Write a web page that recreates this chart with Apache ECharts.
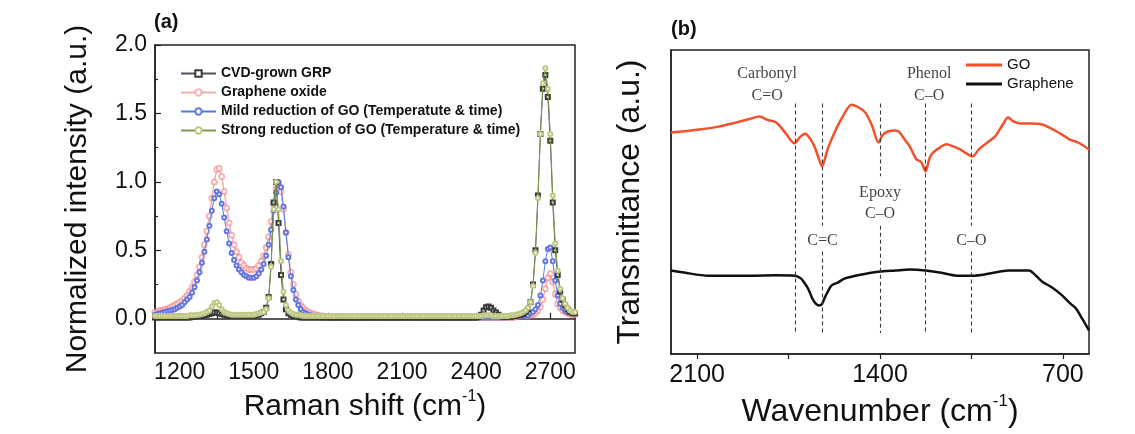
<!DOCTYPE html>
<html>
<head>
<meta charset="utf-8">
<script src="https://cdn.jsdelivr.net/npm/echarts@6/dist/echarts.min.js"></script>
<style>html,body{margin:0;padding:0;background:#fff;}#c{width:1135px;height:434px;}</style>
</head>
<body>
<div id="c"></div>
<script>
// ---------- Panel (a): Raman spectra ----------
const ramanShift = [
1100,1110,1120,1130,1140,1150,1160,1170,1180,1190,
1200,1210,1220,1230,1240,1250,1260,1270,1280,1290,
1300,1310,1320,1330,1340,1350,1360,1370,1380,1390,
1400,1410,1420,1430,1440,1450,1460,1470,1480,1490,
1500,1510,1520,1530,1540,1550,1560,1570,1580,1590,
1600,1610,1620,1630,1640,1650,1660,1670,1680,1690,
1700,1710,1720,1730,1740,1750,1760,1770,1780,1790,
1800,1810,1820,1830,1840,1850,1860,1870,1880,1890,
1900,1910,1920,1930,1940,1950,1960,1970,1980,1990,
2000,2010,2020,2030,2040,2050,2060,2070,2080,2090,
2100,2110,2120,2130,2140,2150,2160,2170,2180,2190,
2200,2210,2220,2230,2240,2250,2260,2270,2280,2290,
2300,2310,2320,2330,2340,2350,2360,2370,2380,2390,
2400,2410,2420,2430,2440,2450,2460,2470,2480,2490,
2500,2510,2520,2530,2540,2550,2560,2570,2580,2590,
2600,2610,2620,2630,2640,2650,2660,2670,2680,2690,
2700,2710,2720,2730,2740,2750,2760,2770,2780,2790,
2800];

const cvdGrown = [
0.01,0.01,0.01,0.01,0.01,0.01,0.01,0.01,0.01,0.01,
0.01,0.01,0.01,0.01,0.01,0.015,0.015,0.02,0.02,0.02,
0.025,0.03,0.035,0.04,0.045,0.045,0.04,0.035,0.03,0.025,
0.02,0.02,0.02,0.02,0.02,0.02,0.02,0.02,0.02,0.02,
0.02,0.025,0.03,0.04,0.05,0.08,0.16,0.40,0.85,1.00,
0.70,0.32,0.14,0.07,0.04,0.03,0.02,0.02,0.015,0.01,
0.01,0.01,0.01,0.01,0.01,0.01,0.01,0.01,0.01,0.01,
0.01,0.01,0.01,0.01,0.01,0.01,0.01,0.01,0.01,0.01,
0.01,0.01,0.01,0.01,0.01,0.01,0.01,0.01,0.01,0.01,
0.01,0.01,0.01,0.01,0.01,0.01,0.01,0.01,0.01,0.01,
0.01,0.01,0.01,0.01,0.01,0.01,0.01,0.01,0.01,0.01,
0.01,0.01,0.01,0.01,0.01,0.01,0.01,0.01,0.01,0.01,
0.01,0.01,0.01,0.01,0.01,0.01,0.01,0.01,0.01,0.01,
0.01,0.015,0.03,0.06,0.085,0.09,0.08,0.06,0.045,0.03,
0.02,0.015,0.015,0.015,0.015,0.02,0.02,0.025,0.03,0.035,
0.05,0.07,0.12,0.25,0.50,0.90,1.35,1.68,1.78,1.62,
1.30,0.85,0.50,0.32,0.20,0.14,0.10,0.07,0.05,0.04,
0.04];

const grapheneOxide = [
0.05,0.05,0.06,0.06,0.07,0.07,0.08,0.09,0.10,0.11,
0.12,0.13,0.15,0.17,0.20,0.23,0.27,0.32,0.38,0.45,
0.54,0.64,0.75,0.88,1.00,1.09,1.10,1.04,0.93,0.81,
0.70,0.61,0.54,0.49,0.45,0.41,0.39,0.37,0.36,0.36,
0.36,0.37,0.39,0.42,0.46,0.52,0.60,0.71,0.84,0.95,
0.99,0.93,0.80,0.63,0.47,0.34,0.25,0.18,0.13,0.10,
0.08,0.06,0.05,0.04,0.035,0.03,0.025,0.02,0.02,0.015,
0.01,0.01,0.01,0.01,0.01,0.01,0.01,0.01,0.01,0.01,
0.01,0.01,0.01,0.01,0.01,0.01,0.01,0.01,0.01,0.01,
0.01,0.01,0.01,0.01,0.01,0.01,0.01,0.01,0.01,0.01,
0.01,0.01,0.01,0.01,0.01,0.01,0.01,0.01,0.01,0.01,
0.01,0.01,0.01,0.01,0.01,0.01,0.01,0.01,0.01,0.01,
0.01,0.01,0.01,0.01,0.01,0.01,0.01,0.01,0.01,0.01,
0.01,0.01,0.01,0.01,0.01,0.01,0.01,0.01,0.01,0.01,
0.01,0.01,0.01,0.01,0.01,0.01,0.015,0.015,0.02,0.02,
0.02,0.02,0.025,0.03,0.04,0.06,0.09,0.14,0.22,0.30,
0.33,0.27,0.18,0.11,0.08,0.06,0.05,0.04,0.035,0.03,
0.03];

const mildReduction = [
0.03,0.035,0.04,0.045,0.05,0.055,0.06,0.065,0.07,0.08,
0.09,0.10,0.12,0.14,0.16,0.19,0.23,0.28,0.34,0.41,
0.49,0.58,0.68,0.79,0.88,0.93,0.91,0.84,0.74,0.64,
0.55,0.48,0.43,0.39,0.36,0.34,0.32,0.31,0.30,0.30,
0.30,0.31,0.33,0.36,0.40,0.46,0.54,0.65,0.79,0.92,
1.00,0.96,0.82,0.63,0.45,0.31,0.21,0.14,0.10,0.07,
0.05,0.04,0.03,0.025,0.02,0.02,0.015,0.015,0.01,0.01,
0.01,0.01,0.01,0.01,0.01,0.01,0.01,0.01,0.01,0.01,
0.01,0.01,0.01,0.01,0.01,0.01,0.01,0.01,0.01,0.01,
0.01,0.01,0.01,0.01,0.01,0.01,0.01,0.01,0.01,0.01,
0.01,0.01,0.01,0.01,0.01,0.01,0.01,0.01,0.01,0.01,
0.01,0.01,0.01,0.01,0.01,0.01,0.01,0.01,0.01,0.01,
0.01,0.01,0.01,0.01,0.01,0.01,0.01,0.01,0.01,0.01,
0.01,0.01,0.01,0.01,0.01,0.01,0.01,0.01,0.01,0.01,
0.01,0.01,0.01,0.015,0.015,0.015,0.02,0.02,0.02,0.02,
0.02,0.025,0.04,0.05,0.07,0.10,0.17,0.28,0.42,0.51,
0.52,0.42,0.28,0.17,0.11,0.08,0.06,0.05,0.045,0.04,
0.04];

const strongReduction = [
0.02,0.02,0.02,0.02,0.02,0.02,0.02,0.02,0.02,0.02,
0.02,0.02,0.02,0.02,0.025,0.025,0.025,0.03,0.03,0.035,
0.04,0.05,0.06,0.09,0.115,0.12,0.10,0.07,0.05,0.04,
0.035,0.03,0.03,0.03,0.03,0.03,0.03,0.03,0.03,0.03,
0.03,0.035,0.04,0.045,0.05,0.07,0.15,0.38,0.80,1.00,
0.80,0.42,0.20,0.10,0.06,0.045,0.035,0.03,0.03,0.025,
0.02,0.02,0.02,0.02,0.02,0.02,0.02,0.02,0.02,0.02,
0.02,0.02,0.02,0.02,0.02,0.02,0.02,0.02,0.02,0.02,
0.02,0.02,0.02,0.02,0.02,0.02,0.02,0.02,0.02,0.02,
0.02,0.02,0.02,0.02,0.02,0.02,0.02,0.02,0.02,0.02,
0.02,0.02,0.02,0.02,0.02,0.02,0.02,0.02,0.02,0.02,
0.02,0.02,0.02,0.02,0.02,0.02,0.02,0.02,0.02,0.02,
0.02,0.02,0.02,0.02,0.02,0.02,0.02,0.02,0.02,0.02,
0.02,0.02,0.02,0.025,0.025,0.025,0.025,0.02,0.02,0.02,
0.02,0.02,0.02,0.02,0.025,0.025,0.03,0.035,0.04,0.05,
0.06,0.08,0.12,0.24,0.48,0.88,1.35,1.72,1.83,1.68,
1.35,0.90,0.55,0.35,0.22,0.15,0.11,0.08,0.06,0.05,
0.05];

const ramanNames = ['CVD-grown GRP','Graphene oxide','Mild reduction of GO (Temperatute & time)','Strong reduction of GO (Temperature & time)'];
const ramanXLabels = [1200,1500,1800,2100,2400,2700];
const ramanXMinor = [1350,1650,1950,2250,2550];
const ramanYLabels = [0,0.5,1.0,1.5,2.0];
const ramanYMinor = [0.25,0.75,1.25,1.75];

// ---------- Panel (b): FTIR ----------
const goWavenumber = [2200,2100,2018,1950,1900,1862,1830,1796,1760,1727,1705,1686,1665,1651,1635,1622,1600,1574,1540,1509,1480,1456,1430,1406,1390,1370,1340,1326,1305,1286,1261,1242,1226,1210,1196,1170,1145,1120,1093,1070,1046,1020,989,960,930,909,890,859,820,780,740,700,675,640,600];
const goTransmittance = [72.9,73.8,74.8,76.2,77.3,78.1,77.0,76.1,72.5,69.3,71.5,72.5,70.5,68.3,64.5,61.8,67.5,72.9,78.5,82.0,81.0,79.4,75.0,69.6,72.0,73.2,73.5,73.0,70.5,68.3,64.1,63.1,60.1,64.5,66.3,68.0,69.0,68.3,67.3,66.0,65.0,67.5,69.6,71.5,75.5,77.8,76.5,75.8,75.8,75.5,74.0,72.0,70.6,69.5,67.3];
const grWavenumber = [2200,2150,2057,1950,1888,1800,1727,1705,1693,1675,1659,1645,1633,1622,1613,1600,1586,1560,1536,1480,1406,1340,1287,1226,1170,1105,1046,980,909,830,800,780,740,703,670,650,625,600];
const grTransmittance = [27.5,26.8,25.8,25.8,25.8,25.9,25.8,25.0,23.9,21.5,18.3,16.5,16.0,16.5,18.3,20.5,22.5,23.6,24.8,26.0,27.1,27.5,27.8,27.5,26.8,25.8,25.8,26.5,27.5,27.5,25.5,23.9,21.8,19.3,16.5,15.0,11.5,7.8];
const ftirXLabels = [700,1400,2100];
const ftirXTicks = [700,1050,1400,1750,2100];
// dashed band markers: [wavenumber, from, to]
const bandSegments = [
  [1725,82.4,6.9],
  [1620,82.4,42.2],[1620,33.7,6.9],
  [1400,82.4,58.5],[1400,42.2,6.9],
  [1225,82.4,6.9],
  [1050,82.4,42.2],[1050,33.7,6.9]
];
const annoText = ['Carbonyl','C=O','Phenol','C\u2013O','Epoxy','C\u2013O','C=C','C\u2013O'];
const annoX = [1832,1832,1212,1212,1400,1400,1620,1050];
const annoY = [92.2,85.0,92.2,85.0,52.9,46.1,37.3,37.3];

const chart = echarts.init(document.getElementById('c'), null, {renderer:'canvas'});
const SANS = 'Liberation Sans, Arial, sans-serif';
const pair = (xs, ys) => xs.map((x,i)=>[x, ys[i]]);
const plain = v => String(v);

const richA = {
  n:{fontSize:30, fontFamily:SANS, color:'#111', lineHeight:36},
  s:{fontSize:16, fontFamily:SANS, color:'#111', verticalAlign:'top', lineHeight:36, padding:[0,0,18,0]}
};
const richB = {
  n:{fontSize:32, fontFamily:SANS, color:'#111', lineHeight:38},
  s:{fontSize:17, fontFamily:SANS, color:'#111', verticalAlign:'top', lineHeight:38, padding:[0,0,19,0]}
};

const option = {
  animation:false,
  backgroundColor:'#fff',
  title:[
    {text:'(a)', left:154, top:12, padding:0, textStyle:{fontSize:20, fontWeight:'bold', fontFamily:SANS, color:'#111'}},
    {text:'(b)', left:671, top:19, padding:0, textStyle:{fontSize:20, fontWeight:'bold', fontFamily:SANS, color:'#111'}}
  ],
  legend:[
    {data:ramanNames, orient:'vertical', left:180, top:66, padding:0, itemWidth:35, itemHeight:8, itemGap:4,
     textStyle:{fontSize:14, fontWeight:'bold', fontFamily:SANS, color:'#111', lineHeight:15}},
    {data:[{name:'GO', icon:'rect'},{name:'Graphene', icon:'rect'}], orient:'vertical', left:966, top:57, padding:0,
     itemWidth:36, itemHeight:3, itemGap:3,
     textStyle:{fontSize:15, fontFamily:SANS, color:'#111', lineHeight:16}}
  ],
  grid:[
    {left:155, top:45, width:420, height:308, show:true, borderColor:'#222', borderWidth:1.5, backgroundColor:'transparent'},
    {left:671, top:50, width:418, height:306, show:true, borderColor:'#222', borderWidth:1.5, backgroundColor:'transparent'}
  ],
  xAxis:[
    {gridIndex:0, type:'value', min:1100, max:2800, position:'bottom',
     axisLine:{show:true, lineStyle:{color:'#222', width:1.5}},
     axisTick:{show:true, inside:true, length:6, customValues:ramanXLabels, lineStyle:{color:'#222', width:1.2}},
     axisLabel:{customValues:ramanXLabels, formatter:plain, margin:8, fontSize:23, fontFamily:SANS, color:'#111'},
     splitLine:{show:false},
     name:'{n|Raman shift (cm}{s|-1}{n|)}', nameLocation:'middle', nameGap:35,
     nameTextStyle:{rich:richA}},
    {gridIndex:0, type:'value', min:1100, max:2800, position:'bottom',
     axisLine:{show:false},
     axisTick:{show:true, inside:true, length:3, customValues:ramanXMinor, lineStyle:{color:'#222', width:1.2}},
     axisLabel:{show:false}, splitLine:{show:false}},
    {gridIndex:1, type:'value', min:600, max:2200, inverse:true, position:'bottom',
     axisLine:{show:true, lineStyle:{color:'#222', width:1.5}},
     axisTick:{show:true, inside:false, length:5, customValues:ftirXTicks, lineStyle:{color:'#222', width:1.2}},
     axisLabel:{customValues:ftirXLabels, formatter:plain, margin:9, fontSize:25, fontFamily:SANS, color:'#111'},
     splitLine:{show:false},
     name:'{n|Wavenumber (cm}{s|-1}{n|)}', nameLocation:'middle', nameGap:36,
     nameTextStyle:{rich:richB}}
  ],
  yAxis:[
    {gridIndex:0, type:'value', min:-0.25, max:2.0, position:'left',
     axisLine:{show:true, lineStyle:{color:'#222', width:1.5}},
     axisTick:{show:true, inside:true, length:6, customValues:ramanYLabels, lineStyle:{color:'#222', width:1.2}},
     axisLabel:{customValues:ramanYLabels, margin:8, fontSize:23, fontFamily:SANS, color:'#111', formatter:v=>Number(v).toFixed(1)},
     splitLine:{show:false},
     name:'Normalized intensity (a.u.)', nameLocation:'middle', nameGap:62,
     nameTextStyle:{fontSize:30, fontFamily:SANS, color:'#111'}},
    {gridIndex:0, type:'value', min:-0.25, max:2.0, position:'left',
     axisLine:{show:false},
     axisTick:{show:true, inside:true, length:3, customValues:ramanYMinor, lineStyle:{color:'#222', width:1.2}},
     axisLabel:{show:false}, splitLine:{show:false}},
    {gridIndex:1, type:'value', min:0, max:100, position:'left',
     axisLine:{show:true, lineStyle:{color:'#222', width:1.5}},
     axisTick:{show:false}, axisLabel:{show:false}, splitLine:{show:false},
     name:'Transmittance (a.u.)', nameLocation:'middle', nameGap:25,
     nameTextStyle:{fontSize:32, fontFamily:SANS, color:'#111'}}
  ],
  series:[
    {name:ramanNames[1], type:'line', xAxisIndex:0, yAxisIndex:0, z:2,
     data:pair(ramanShift, grapheneOxide), symbol:'emptyCircle', symbolSize:5, showAllSymbol:true,
     itemStyle:{color:'rgba(240,120,120,0.55)', borderWidth:1.2},
     lineStyle:{color:'rgba(240,120,120,0.6)', width:1.5}},
    {name:ramanNames[2], type:'line', xAxisIndex:0, yAxisIndex:0, z:3,
     data:pair(ramanShift, mildReduction), symbol:'emptyCircle', symbolSize:4, showAllSymbol:true,
     itemStyle:{color:'#6576e0', borderWidth:1},
     lineStyle:{color:'#4f7fe6', width:1}},
    {name:ramanNames[0], type:'line', xAxisIndex:0, yAxisIndex:0, z:4,
     data:pair(ramanShift, cvdGrown), symbol:'emptyRect', symbolSize:4, showAllSymbol:true,
     itemStyle:{color:'#3a3a3a', borderWidth:1},
     lineStyle:{color:'#4a5560', width:1}},
    {name:ramanNames[3], type:'line', xAxisIndex:0, yAxisIndex:0, z:5,
     data:pair(ramanShift, strongReduction), symbol:'emptyCircle', symbolSize:4, showAllSymbol:true,
     itemStyle:{color:'#c0c783', borderWidth:1.2},
     lineStyle:{color:'#7c9a4e', width:1}},
    {name:'GO', type:'line', xAxisIndex:2, yAxisIndex:2, data:pair(goWavenumber, goTransmittance),
     symbol:'none', smooth:0.3, lineStyle:{color:'#f4502a', width:2.5}, itemStyle:{color:'#f4502a'},
     markLine:{silent:true, symbol:['none','none'], label:{show:false},
       lineStyle:{color:'#2f3d4c', type:[4,3], width:1.1},
       data:bandSegments.map(s=>[{coord:[s[0], s[1]]},{coord:[s[0], s[2]]}])}},
    {name:'Graphene', type:'line', xAxisIndex:2, yAxisIndex:2, data:pair(grWavenumber, grTransmittance),
     symbol:'none', smooth:0.3, lineStyle:{color:'#111', width:2.5}, itemStyle:{color:'#111'}},
    {name:'labels', type:'scatter', xAxisIndex:2, yAxisIndex:2, symbolSize:0, silent:true,
     data:annoText.map((t,i)=>({name:t, value:[annoX[i], annoY[i]]})),
     label:{show:true, position:'inside', formatter:'{b}', fontSize:16, fontFamily:'Liberation Serif, Times New Roman, serif', color:'#111'}}
  ]
};
chart.setOption(option);
</script>
</body>
</html>
